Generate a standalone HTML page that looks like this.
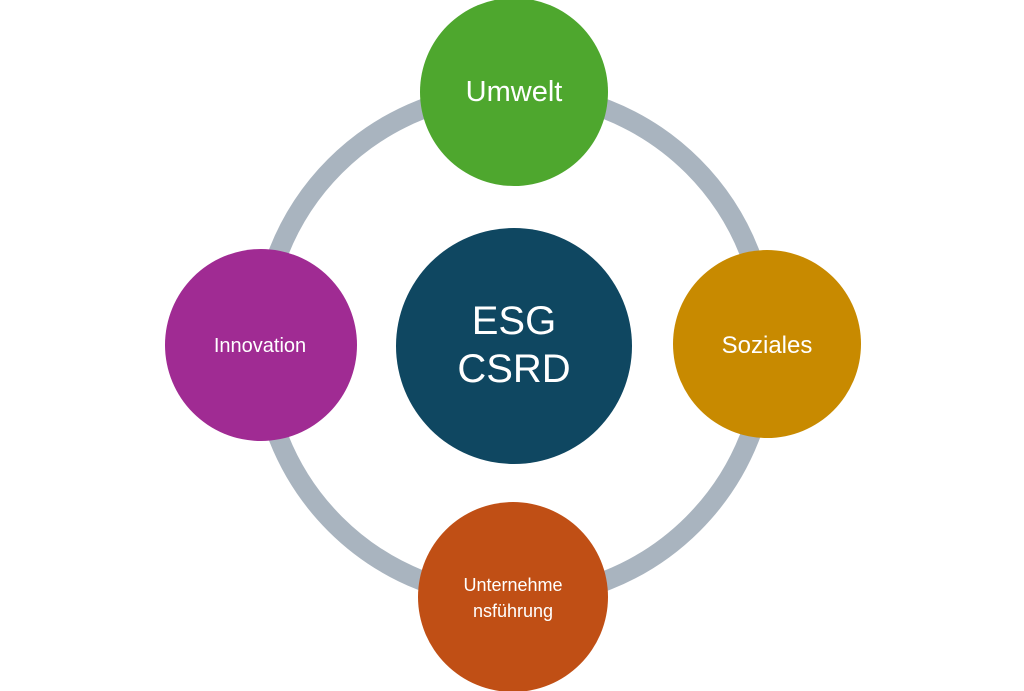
<!DOCTYPE html>
<html><head><meta charset="utf-8"><style>
html,body{margin:0;padding:0;background:#fff;}
svg{display:block;}
text{font-family:"Liberation Sans","DejaVu Sans",sans-serif;fill:#fff;text-anchor:middle;}
</style></head><body>
<svg width="1024" height="691" viewBox="0 0 1024 691" xmlns="http://www.w3.org/2000/svg">
<circle cx="514" cy="345" r="253" fill="none" stroke="#a9b4bf" stroke-width="20"/>
<circle cx="514" cy="92" r="94" fill="#4ea72e"/>
<circle cx="767" cy="344" r="94" fill="#c88a00"/>
<circle cx="261" cy="345" r="96" fill="#a02b93"/>
<circle cx="513" cy="597" r="95" fill="#c04f15"/>
<circle cx="514" cy="346" r="118" fill="#0f4761"/>
<text x="514" y="101" font-size="29">Umwelt</text>
<text x="767" y="353" font-size="24">Soziales</text>
<text x="260" y="352" font-size="20">Innovation</text>
<text x="513" y="591" font-size="18">Unternehme</text>
<text x="513" y="617" font-size="18">nsführung</text>
<text x="514" y="334" font-size="40">ESG</text>
<text x="514" y="382" font-size="40">CSRD</text>
</svg>
</body></html>
